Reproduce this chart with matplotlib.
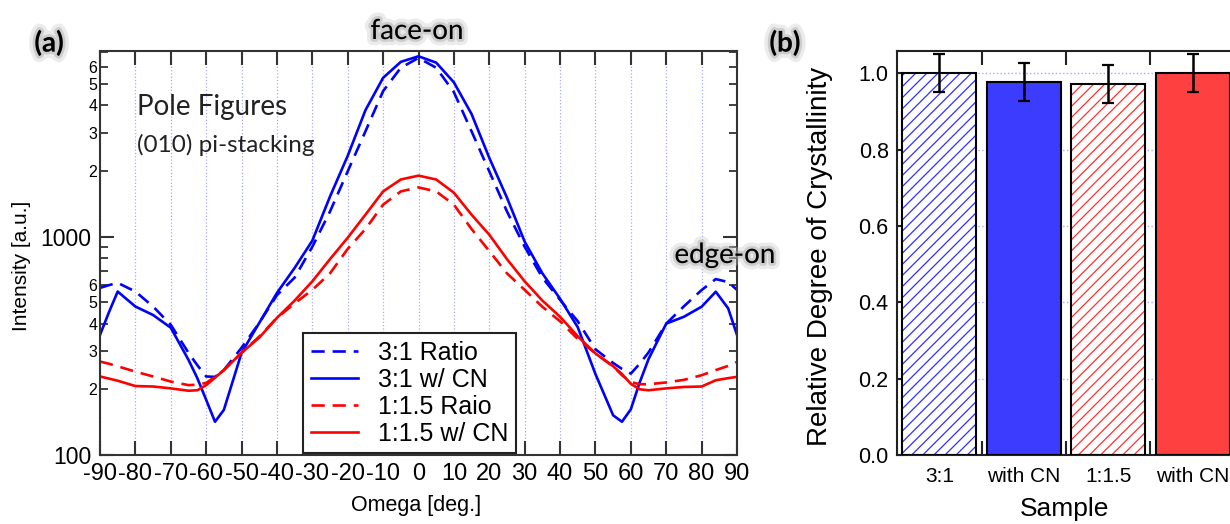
import matplotlib
matplotlib.use("Agg")
import matplotlib.pyplot as plt
import matplotlib.patheffects as pe
import numpy as np

plt.rcParams['font.family'] = ['Liberation Sans', 'DejaVu Sans']
plt.rcParams['hatch.linewidth'] = 0.9

# %% data
omega = [-90, -87.5, -85, -80, -75, -70, -65, -62.5, -60, -57.5, -55, -50, -45,
         -40, -35, -30, -25, -20, -15, -10, -5, 0, 5, 10, 15, 20, 25, 30, 35,
         40, 45, 50, 55, 57.5, 60, 62.5, 65, 70, 75, 80, 84, 87.5, 90]

ratio_31 = [583, 600, 615, 561, 479, 395, 294, 258, 229, 228, 245, 310, 403,
            540, 650, 900, 1306, 1995, 3040, 4650, 5950, 6600, 5950, 4600, 3040,
            1995, 1306, 900, 650, 514, 410, 305, 264, 248, 236, 262, 295, 400,
            480, 570, 640, 620, 571]

cn_31 = [355, 450, 561, 479, 438, 383, 273, 225, 179, 142, 161, 294, 403,
         553, 720, 960, 1530, 2350, 3800, 5350, 6330, 6715, 6280, 5100, 3650,
         2300, 1510, 950, 680, 520, 385, 235, 152, 142, 162, 215, 275, 400,
         430, 478, 560, 470, 355]

ratio_115 = [268, 262, 255, 241, 229, 217, 209, 210, 214, 228, 245, 294, 349,
             425, 495, 571, 680, 880, 1085, 1403, 1614, 1683, 1614, 1403, 1085,
             860, 680, 571, 478, 410, 340, 292, 255, 232, 216, 211, 211, 215,
             221, 232, 245, 256, 267]

cn_115 = [229, 224, 219, 207, 206, 202, 197, 198, 209, 226, 245, 294, 345,
          425, 510, 625, 790, 990, 1262, 1614, 1830, 1906, 1830, 1592, 1262,
          1022, 790, 625, 510, 430, 350, 292, 255, 235, 212, 200, 198, 202,
          205, 206, 220, 225, 228]

labels = ['3:1 Ratio', '3:1 w/ CN', '1:1.5 Raio', '1:1.5 w/ CN']

samples = ['3:1', 'with CN', '1:1.5', 'with CN']
crystallinity = [1.0, 0.977, 0.972, 1.0]
cryst_err = [0.05, 0.05, 0.05, 0.05]

# %% figure
W, H = 1230, 524
fig = plt.figure(figsize=(W / 100, H / 100), dpi=100)

def fx(px):
    return px / W

def fy(py):
    return 1 - py / H

ax = fig.add_axes([fx(100), fy(455), fx(637), 404 / H])
ax2 = fig.add_axes([fx(897), fy(455), fx(338), 404 / H])

blue = '#0000ff'
red = '#ff0000'
dash = (5, 3)

ax.plot(omega, ratio_31, color=blue, lw=1.9, dashes=dash, label=labels[0])
ax.plot(omega, cn_31, color=blue, lw=1.9, label=labels[1])
ax.plot(omega, ratio_115, color=red, lw=1.9, dashes=dash, label=labels[2])
ax.plot(omega, cn_115, color=red, lw=1.9, label=labels[3])

ax.set_yscale('log')
ax.set_xlim(-90, 90)
ax.set_ylim(100, 7100)
ax.set_xticks(np.arange(-90, 91, 10))
ax.set_xticklabels([str(v) for v in range(-90, 91, 10)], fontsize=17)
ax.xaxis.grid(True, color='#a8a8ff', ls=':', lw=0.9)
ax.set_yticks([100, 1000])
ax.set_yticklabels(['100', '1000'], fontsize=16.5)
minor = [200, 300, 400, 500, 600, 700, 800, 900,
         2000, 3000, 4000, 5000, 6000, 7000]
minor_lab = ['2', '3', '4', '5', '6', '', '', '',
             '2', '3', '4', '5', '6', '']
ax.set_yticks(minor, minor=True)
ax.set_yticklabels(minor_lab, minor=True, fontsize=11.5)
ax.tick_params(which='major', direction='in', length=10, width=1.5,
               top=True, right=True, color='#333333', pad=6)
ax.tick_params(axis='y', which='minor', direction='in', length=6, width=1.3,
               right=True, color='#333333', pad=2)
for s in ax.spines.values():
    s.set_linewidth(1.5)
    s.set_color('#333333')

leg = ax.legend(loc='lower left', bbox_to_anchor=(0.3187, 0.004),
                borderaxespad=0, fontsize=18, handlelength=1.9,
                handletextpad=0.8, labelspacing=0.12, borderpad=0.3,
                fancybox=False, framealpha=1, edgecolor='#222222')
leg.get_frame().set_linewidth(1.5)

fig.text(fx(22), fy(266), 'Intensity [a.u.]', rotation=90, fontsize=15,
         ha='center', va='center')
fig.text(fx(416), fy(506), 'Omega [deg.]', fontsize=15.5,
         ha='center', va='center')

calib = ['Lato', 'DejaVu Sans']
glow = [pe.Stroke(linewidth=9, foreground='#c8c8c8', alpha=0.35),
        pe.Stroke(linewidth=4, foreground='#a0a0a0', alpha=0.4),
        pe.Normal()]
fig.text(fx(137), fy(107), 'Pole Figures', fontsize=20, family=calib,
         ha='left', va='center', color='#222222')
fig.text(fx(137), fy(145), '(010) pi-stacking', fontsize=17.5, family=calib,
         ha='left', va='center', color='#222222')
fig.text(fx(417), fy(31), 'face-on', fontsize=20, family=calib,
         ha='center', va='center', path_effects=glow)
fig.text(fx(725), fy(255), 'edge-on', fontsize=20, family=calib,
         ha='center', va='center', path_effects=glow)
fig.text(fx(49), fy(43), '(a)', fontsize=20, family=calib, weight='bold',
         ha='center', va='center', path_effects=glow)
fig.text(fx(785), fy(43), '(b)', fontsize=20, family=calib, weight='bold',
         ha='center', va='center', path_effects=glow)

# %% bar panel
pos = np.arange(len(samples))
fills = ['white', '#3c3cff', 'white', '#ff4040']
hatch_col = ['#3030ff', '#3030ff', '#ff3030', '#ff3030']
hatches = ['///', None, '///', None]
ax2.set_axisbelow(True)
ax2.yaxis.grid(True, color='#a8a8ff', ls=':', lw=1.0)
for i in range(len(samples)):
    if hatches[i]:
        ax2.bar(pos[i], crystallinity[i], 0.88, color=fills[i],
                edgecolor=hatch_col[i], hatch=hatches[i], lw=0, zorder=2)
    else:
        ax2.bar(pos[i], crystallinity[i], 0.88, color=fills[i], lw=0, zorder=2)
ax2.bar(pos, crystallinity, 0.88, fill=False, edgecolor='black', lw=1.5,
        zorder=3)
ax2.errorbar(pos, crystallinity, yerr=cryst_err, fmt='none', ecolor='black',
             elinewidth=1.8, capsize=4, capthick=1.6, zorder=4)

ax2.set_xlim(-0.5, 3.5)
ax2.set_ylim(0, 1.058)
ax2.set_yticks(np.arange(0, 1.01, 0.2))
ax2.set_yticklabels(['%.1f' % v for v in np.arange(0, 1.01, 0.2)], fontsize=15.5)
ax2.set_xticks(pos)
ax2.set_xticklabels(samples, fontsize=15)
ax2.set_xticks([0.5, 1.5, 2.5], minor=True)
ax2.tick_params(axis='x', which='major', length=0, pad=9)
ax2.tick_params(axis='x', which='minor', direction='in', length=10, width=1.5,
                top=True, color='#222222')
ax2.tick_params(axis='y', which='major', direction='in', length=6, width=1.5,
                right=True, color='#222222', pad=6)
for s in ax2.spines.values():
    s.set_linewidth(1.5)
    s.set_color('#222222')

fig.text(fx(820), fy(256), 'Relative Degree of Crystallinity', rotation=90,
         fontsize=20, ha='center', va='center')
fig.text(fx(1065), fy(509), 'Sample', fontsize=19, ha='center', va='center')

fig.savefig('out.png', dpi=100)
